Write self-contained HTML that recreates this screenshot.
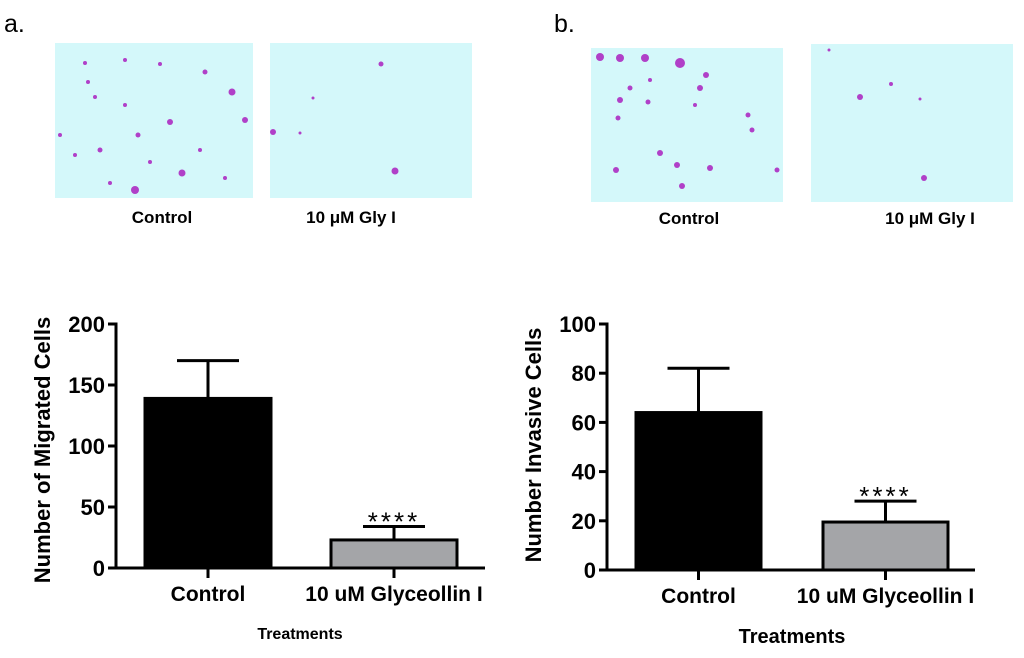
<!DOCTYPE html>
<html><head><meta charset="utf-8">
<style>
html,body{margin:0;padding:0;background:#fff;}
svg{display:block;font-family:"Liberation Sans",Arial,sans-serif;}
</style></head>
<body>
<svg id="fig" width="1024" height="658" viewBox="0 0 1024 658">
  <text x="4" y="32" font-size="25">a.</text>
  <text x="554" y="32" font-size="25">b.</text>
  <rect x="55" y="43" width="198" height="155" fill="#d4f8fa"/>
  <rect x="270" y="43" width="202" height="155" fill="#d4f8fa"/>
  <rect x="591" y="48" width="192" height="154" fill="#d4f8fa"/>
  <rect x="811" y="44" width="202" height="158" fill="#d4f8fa"/>
  <g id="cells" fill="#b040c8"></g>
  <g font-weight="bold" font-size="17" text-anchor="middle">
    <text x="162" y="223">Control</text>
    <text x="351" y="223">10 μM Gly I</text>
    <text x="689" y="224">Control</text>
    <text x="930" y="224">10 μM Gly I</text>
  </g>
  <g id="chartA"></g>
  <g id="chartB"></g>
</svg>
<script>
const categories = ["Control", "10 uM Glyceollin I"];
const migratedValues = [139, 23];
const migratedErrors = [170, 34];
const invasiveValues = [64, 19.5];
const invasiveErrors = [82, 28];
const migratedTicks = [0, 50, 100, 150, 200];
const invasiveTicks = [0, 20, 40, 60, 80, 100];
const barColors = ["#000000", "#a4a5a8"];

const NS = "http://www.w3.org/2000/svg";
function mk(parent, tag, attrs) {
  const e = document.createElementNS(NS, tag);
  for (const k in attrs) e.setAttribute(k, attrs[k]);
  parent.appendChild(e);
  return e;
}

const cells = document.getElementById("cells");
const dots = [[85,63,2],[88,82,2],[95,97,2],[100,150,2.5],[125,105,2],[138,135,2.5],[170,122,3],[182,173,3.5],[205,72,2.5],[232,92,3.5],[245,120,3],[135,190,4],[110,183,2],[150,162,2],[60,135,2],[200,150,2],[225,178,2],[160,64,2],[75,155,2],[125,60,2],
[381,64,2.5],[273,132,3],[395,171,3.5],[300,133,1.5],[313,98,1.5],
[600,57,4],[620,58,4],[645,58,4],[680,63,5],[706,75,3],[700,88,3],[630,88,2.5],[620,100,3],[618,118,2.5],[648,102,2.5],[660,153,3],[677,165,3],[710,168,3],[682,186,3],[616,170,3],[748,115,2.5],[752,130,2.5],[777,170,2.5],[695,105,2],[650,80,2],
[860,97,3],[891,84,2],[920,99,1.5],[924,178,3],[829,50,1.5]];
dots.forEach(d => {
  const c = mk(cells, "circle", {cx:d[0], cy:d[1], r:d[2]});
  
  
});

function drawChart(g, cfg, values, errors, ticks) {
  const yScale = v => cfg.y0 - (v - ticks[0]) / (ticks[ticks.length-1] - ticks[0]) * (cfg.y0 - cfg.yTop);
  const ax = mk(g, "line", {x1:cfg.ax, y1:yScale(ticks[ticks.length-1]) - 1.5, x2:cfg.ax, y2:cfg.y0 + 1.5, stroke:"#000", "stroke-width":3});
  
  
  const xa = mk(g, "line", {x1:cfg.ax - 8, y1:cfg.y0, x2:cfg.xEnd, y2:cfg.y0, stroke:"#000", "stroke-width":3});
  
  
  ticks.forEach(t => {
    const y = yScale(t);
    const tl = mk(g, "line", {x1:cfg.ax - 8, y1:y, x2:cfg.ax, y2:y, stroke:"#000", "stroke-width":3});
    
    
    const tx = mk(g, "text", {x:cfg.ax - 11, y:y + 8, "text-anchor":"end", "font-size":22, "font-weight":"bold"});
    tx.textContent = t;
    
    
  });
  categories.forEach((c, i) => {
    const x0 = cfg.barX[i], w = cfg.barW, cx = x0 + w / 2;
    const top = yScale(values[i]), et = yScale(errors[i]);
    const eb = mk(g, "line", {x1:cx, y1:top, x2:cx, y2:et, stroke:"#000", "stroke-width":3});
    
    
    const cap = mk(g, "line", {x1:cx - 31, y1:et, x2:cx + 31, y2:et, stroke:"#000", "stroke-width":3});
    
    
    const b = mk(g, "rect", {x:x0, y:top, width:w, height:cfg.y0 - top, fill:barColors[i], stroke:"#000", "stroke-width":3});
    
    
    const xt = mk(g, "line", {x1:cx, y1:cfg.y0, x2:cx, y2:cfg.y0 + 10, stroke:"#000", "stroke-width":3});
    
    
    const lb = mk(g, "text", {x:cx, y:cfg.y0 + 33, "text-anchor":"middle", "font-size":21, "font-weight":"bold"});
    lb.textContent = c;
    
    
    if (i === 1) {
      const st = mk(g, "text", {x:cx, y:et + 4, "text-anchor":"middle", "font-size":26, "letter-spacing":"3"});
      st.textContent = "****";
      
      
    }
  });
  const yt = mk(g, "text", {transform:`translate(${cfg.ytX},${cfg.ytY}) rotate(-90)`, "text-anchor":"middle", "font-size":cfg.ytSize, "font-weight":"bold"});
  yt.textContent = cfg.yTitle;
  
  
  const xt = mk(g, "text", {x:cfg.xtX, y:cfg.xtY, "text-anchor":"middle", "font-size":cfg.xtSize, "font-weight":"bold"});
  xt.textContent = "Treatments";
  
  
}

drawChart(document.getElementById("chartA"),
  {ax:116, y0:568, yTop:324, xEnd:485, barX:[145,331], barW:126, yTitle:"Number of Migrated Cells", ytX:50, ytY:450, ytSize:22, xtX:300, xtY:639, xtSize:16},
  migratedValues, migratedErrors, migratedTicks);
drawChart(document.getElementById("chartB"),
  {ax:607, y0:570, yTop:324, xEnd:975, barX:[636,823], barW:125, yTitle:"Number Invasive Cells", ytX:541, ytY:445, ytSize:22, xtX:792, xtY:643, xtSize:20},
  invasiveValues, invasiveErrors, invasiveTicks);
</script>
</body></html>
